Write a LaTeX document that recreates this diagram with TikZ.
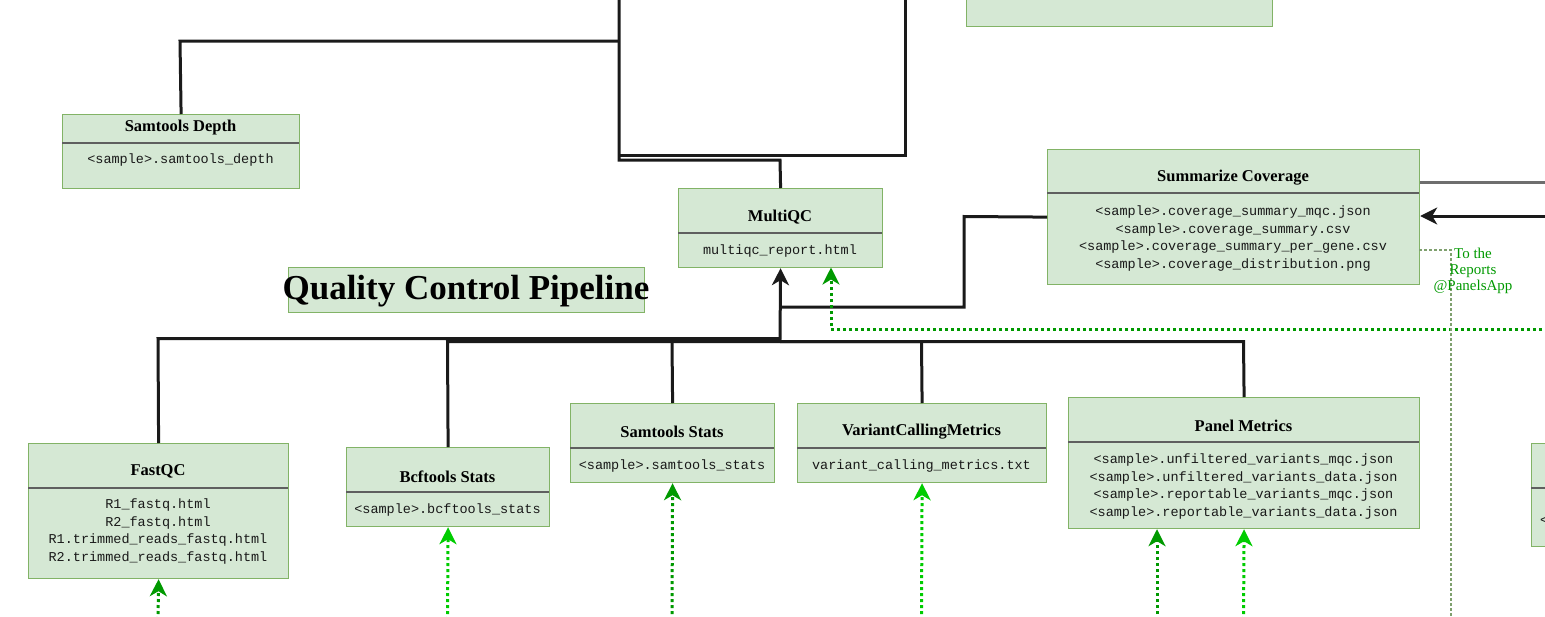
\documentclass[tikz,border=0pt]{standalone}
\usepackage{fontspec}
\setmainfont{Liberation Serif}
\setmonofont{Liberation Mono}
\usetikzlibrary{arrows.meta}
\definecolor{boxfill}{HTML}{D5E8D4}
\definecolor{boxline}{HTML}{82B366}
\definecolor{divgray}{HTML}{5F5F5F}
\definecolor{linek}{HTML}{1A1A1A}
\definecolor{gdark}{HTML}{009900}
\definecolor{gbright}{HTML}{00CC00}
\definecolor{gmute}{HTML}{7FA06E}
\definecolor{graylinec}{HTML}{6E6E6E}
\newcommand{\ttlfont}{\fontsize{16.5}{19}\selectfont\bfseries}
\newcommand{\bodyfont}{\fontsize{13.5}{17.7}\selectfont\ttfamily}
\tikzset{
  box/.style={draw=boxline, fill=boxfill, line width=1.2pt, anchor=north west, inner sep=0pt},
  ttl/.style={font=\ttlfont, text=black, inner sep=0pt},
  body/.style={font=\bodyfont, text=black!90, align=center, inner sep=0pt},
  divider/.style={draw=divgray, line width=2pt},
  conn/.style={draw=linek, line width=3pt, line join=miter},
  blackarrow/.style={-{Stealth[length=17pt,width=17pt,inset=5pt]}},
  gdot/.style={line width=3pt, dash pattern=on 3pt off 3pt, -{Stealth[length=17pt,width=17pt,inset=5pt]}},
  gmuted/.style={draw=gmute, line width=2.5pt, dash pattern=on 2.5pt off 2.5pt},
}
\begin{document}
\begin{tikzpicture}[x=1pt,y=-1pt]
\useasboundingbox (0,0) rectangle (1545,616);

% ---------- boxes ----------
% top partial box
\node[box, minimum width=306, minimum height=60] (tb) at (966,-34) {};

% Samtools Depth
\node[box, minimum width=237, minimum height=74] (sd) at (62,114) {};
\draw[divider] (62,143) -- (299,143);
\node[ttl] (sdt) at (180.5,128) {Samtools Depth};
\node[body] (sdb) at (180.5,160) {<sample>.samtools\_depth};

% MultiQC
\node[box, minimum width=204, minimum height=79] (mqc) at (678,188) {};
\draw[divider] (678,233) -- (882,233);
\node[ttl] (mqct) at (780,217) {MultiQC};
\node[body] (mqcb) at (780,251) {multiqc\_report.html};

% Title
\node[box, minimum width=356, minimum height=45] (title) at (288,267) {};
\node[font=\fontsize{35}{38}\selectfont\bfseries, inner sep=0pt] (titlet) at (466,291) {Quality Control Pipeline};

% Summarize Coverage
\node[box, minimum width=372, minimum height=135] (sc) at (1047,149) {};
\draw[divider] (1047,193) -- (1419,193);
\node[ttl] (sct) at (1233,178) {Summarize Coverage};
\node[body] (scb) at (1233,238.5) {<sample>.coverage\_summary\_mqc.json\\<sample>.coverage\_summary.csv\\<sample>.coverage\_summary\_per\_gene.csv\\<sample>.coverage\_distribution.png};

% FastQC
\node[box, minimum width=260, minimum height=135] (fq) at (28,443) {};
\draw[divider] (28,488) -- (288,488);
\node[ttl] (fqt) at (158,471) {FastQC};
\node[body] (fqb) at (158,531.5) {R1\_fastq.html\\R2\_fastq.html\\R1.trimmed\_reads\_fastq.html\\R2.trimmed\_reads\_fastq.html};

% Bcftools Stats
\node[box, minimum width=203, minimum height=79] (bcf) at (346,447) {};
\draw[divider] (346,492) -- (549,492);
\node[ttl] (bcft) at (447.5,477) {Bcftools Stats};
\node[body] (bcfb) at (447.5,510) {<sample>.bcftools\_stats};

% Samtools Stats
\node[box, minimum width=204, minimum height=79] (sst) at (570,403) {};
\draw[divider] (570,448) -- (774,448);
\node[ttl] (sstt) at (672,432) {Samtools Stats};
\node[body] (sstb) at (672,466) {<sample>.samtools\_stats};

% VariantCallingMetrics
\node[box, minimum width=249, minimum height=79] (vcm) at (797,403) {};
\draw[divider] (797,448) -- (1046,448);
\node[ttl] (vcmt) at (921.5,432) {VariantCallingMetrics};
\node[body] (vcmb) at (921.5,466) {variant\_calling\_metrics.txt};

% Panel Metrics
\node[box, minimum width=351, minimum height=131] (pm) at (1068,397) {};
\draw[divider] (1068,442) -- (1419,442);
\node[ttl] (pmt) at (1243.5,426) {Panel Metrics};
\node[body] (pmb) at (1243.5,486.5) {<sample>.unfiltered\_variants\_mqc.json\\<sample>.unfiltered\_variants\_data.json\\<sample>.reportable\_variants\_mqc.json\\<sample>.reportable\_variants\_data.json};

% right partial box
\node[box, minimum width=120, minimum height=103] (rb) at (1531,443) {};
\draw[divider] (1531,488) -- (1651,488);
\node[body, anchor=west] (rbb) at (1540,521) {<sample>};

% ---------- coordinates ----------
\coordinate (topA) at (619,-10);
\coordinate (topB) at (905,-10);
\coordinate (rin) at (1560,216);
\coordinate (rgray) at (1560,182.5);
\coordinate (gin) at (1560,329);
\coordinate (mqcin2) at (831,267.5);
\coordinate (fqin) at (158,620);
\coordinate (bcfin) at (447.5,620);
\coordinate (sstin) at (672,620);
\coordinate (vcmin) at (921.5,620);
\coordinate (pmin1) at (1157,620);
\coordinate (pmin2) at (1243.5,620);
\coordinate (muteend) at (1451,620);
\coordinate (scmute) at (1419,250);

% ---------- connectors ----------
\draw[conn] (sd.north) -- (180,41) -- (619,41);
\draw[conn] (topA) -- (619,160) -- (780,160) -- (mqc.north);
\draw[conn] (topB) -- (905,155) -- (619,155);

\draw[conn, blackarrow] (fq.north) -- (158,338.5) -- (780,338.5) -- (mqc.south);
\draw[conn] (bcf.north) -- (447.5,341.5) -- (780,341.5);
\draw[conn] (sst.north) -- (672,341.5);
\draw[conn] (vcm.north) -- (921.5,341.5) -- (780,341.5);
\draw[conn] (pm.north) -- (1243.5,341.5) -- (780,341.5);
\draw[conn] (sc.west) -- (964,216.5) -- (964,307) -- (780,307);

\draw[conn, blackarrow] (rin) -- (sc.east |- rin);
\draw[draw=graylinec, line width=2.6pt] (sc.east |- rgray) -- (rgray);

\draw[gdot, draw=gdark] (gin) -- (831,329) -- (mqcin2);
\draw[gdot, draw=gdark] (fqin) -- (fq.south);
\draw[gdot, draw=gbright] (bcfin) -- (bcf.south);
\draw[gdot, draw=gdark] (sstin) -- (sst.south);
\draw[gdot, draw=gbright] (vcmin) -- (vcm.south);
\draw[gdot, draw=gdark] (pmin1) -- (pmin1 |- pm.south);
\draw[gdot, draw=gbright] (pmin2) -- (pm.south);

\draw[gmuted] (scmute) -- (1451,250) -- (muteend);
\node[text=gdark, font=\fontsize{15}{16}\selectfont, align=center, inner sep=0pt] (lbl) at (1473,271) {To the\\Reports\\@PanelsApp};
\end{tikzpicture}
\end{document}
